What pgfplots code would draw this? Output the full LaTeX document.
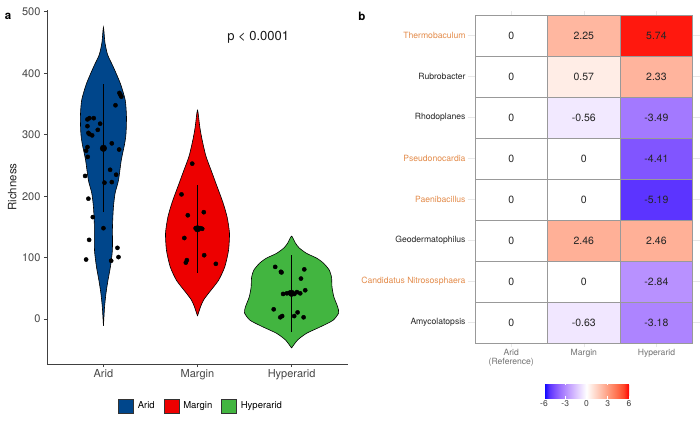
\documentclass[border=0pt]{standalone}
\usepackage{pgfplots}
\pgfplotsset{compat=1.18}
\usepackage{pgfplotstable}
\usepackage{fontspec}
\setmainfont{TeX Gyre Heros}
\definecolor{aridc}{HTML}{00468B}
\definecolor{marginc}{HTML}{ED0000}
\definecolor{hyperc}{HTML}{42B540}
\definecolor{orangelab}{RGB}{228,140,75}
\pgfplotsset{colormap={gg}{rgb255=(0,0,255) rgb255=(89,50,255) rgb255=(126,81,255) rgb255=(155,111,255) rgb255=(179,139,255) rgb255=(200,168,255) rgb255=(220,197,255) rgb255=(238,226,255) rgb255=(255,255,255) rgb255=(255,231,222) rgb255=(255,207,191) rgb255=(255,183,160) rgb255=(255,158,129) rgb255=(255,132,99) rgb255=(255,104,70) rgb255=(255,70,40) rgb255=(255,0,0)}}

\pgfplotstableread{
x y
1.17 368
1.18 365
1.19 362
1.128 348
0.851 327
0.897 327
0.83 325
0.965 318
0.83 314
0.94 308
0.84 303
0.851 301
0.88 299
0.83 280
0.816 274
0.833 264
1.089 286
1.167 276
1.071 243
1.135 235
1.011 222
1.089 223
0.805 233
0.84 196
0.887 166
1.0 148
0.848 129
1.149 116
1.16 101
0.816 97
1.082 95
}\aridpts
\pgfplotstableread{
x y
1.944 253
1.83 203
1.897 169
2.067 174
1.98 148
2.05 147
2.03 148
1.86 132
2.071 104
1.887 96
1.876 92
2.195 90
}\marginpts
\pgfplotstableread{
x y
2.826 85
2.887 77
2.893 76
3.135 81
3.1 66
3.145 47
2.91 41
2.95 42
2.98 43
3.057 44
3.092 42
3.03 41
2.81 16
3.064 11
2.9 5
2.88 3
3.028 5
3.128 3
}\hyperpts
\pgfplotstableread{
x y z
0 0 0
1 0 -0.63
2 0 -3.18
0 1 0
1 1 0
2 1 -2.84
0 2 0
1 2 2.46
2 2 2.46
0 3 0
1 3 0
2 3 -5.19
0 4 0
1 4 0
2 4 -4.41
0 5 0
1 5 -0.56
2 5 -3.49
0 6 0
1 6 0.57
2 6 2.33
0 7 0
1 7 2.25
2 7 5.74
}\heat

\begin{document}
\begin{tikzpicture}[x=1pt,y=1pt]
\useasboundingbox (0,0) rectangle (700,423);
\fill[white] (0,0) rectangle (700,423);
\node[font=\fontsize{11.5}{13}\selectfont\bfseries] at (8,407) {a};
\node[font=\fontsize{11.5}{13}\selectfont\bfseries] at (362,407) {b};

% ---------------- panel a ----------------
\begin{axis}[
  at={(47pt,59pt)}, anchor=south west, scale only axis,
  width=301pt, height=354pt,
  xmin=0.4, xmax=3.6, ymin=-73, ymax=503,
  axis x line*=bottom, axis y line*=left,
  axis line style={black!75, line width=0.8pt, -},
  xtick={1,2,3}, xticklabels={Arid,Margin,Hyperarid},
  ytick={0,100,200,300,400,500},
  tick align=outside, major tick length=3pt,
  tick style={black!75, line width=0.7pt},
  tick label style={font=\fontsize{11}{13}\selectfont, color=black!72},
  xticklabel style={inner sep=2pt},
  /pgf/number format/assume math mode=true,
  ylabel={Richness},
  ylabel style={at={(axis description cs:-0.115,0.5)}, anchor=center, font=\fontsize{11.5}{13}\selectfont, color=black!85},
  legend style={at={(axis description cs:0.512,-0.119)}, anchor=center, draw=none, fill=none,
    legend columns=3, font=\fontsize{9.5}{11}\selectfont, inner sep=0pt,
    /tikz/every even column/.append style={column sep=7pt},
    /tikz/every odd column/.append style={column sep=2pt}},
  legend cell align=left,
  clip=false,
]
\addplot[fill=aridc, draw=black, line width=0.6pt, smooth, tension=0.4,
  legend image code/.code={\draw[fill=aridc, draw=black!80, line width=0.6pt] (0pt,-7pt) rectangle (15pt,7pt);}]
 coordinates {(1,-11) (1.006,5) (1.012,20) (1.027,42) (1.048,63) (1.074,85) (1.095,112) (1.096,150) (1.106,182) (1.124,205) (1.16,226) (1.19,259) (1.225,285) (1.24,302) (1.245,329) (1.232,356) (1.181,383) (1.106,410) (1.045,430) (1.016,450) (1,475)
 (0.984,450) (0.955,430) (0.894,410) (0.819,383) (0.768,356) (0.755,329) (0.76,302) (0.775,285) (0.81,259) (0.84,226) (0.876,205) (0.894,182) (0.904,150) (0.905,112) (0.926,85) (0.952,63) (0.973,42) (0.988,20) (0.994,5) (1,-11)};
\addplot[fill=marginc, draw=black, line width=0.6pt, smooth, tension=0.4,
  legend image code/.code={\draw[fill=marginc, draw=black!80, line width=0.6pt] (0pt,-7pt) rectangle (15pt,7pt);}]
 coordinates {(2,5) (2.032,20) (2.064,31) (2.117,42) (2.223,63) (2.29,85) (2.33,112) (2.34,140) (2.315,166) (2.27,190) (2.21,215) (2.15,240) (2.09,265) (2.05,291) (2.025,312) (2,340)
 (1.975,312) (1.95,291) (1.91,265) (1.85,240) (1.79,215) (1.73,190) (1.685,166) (1.66,140) (1.67,112) (1.71,85) (1.777,63) (1.883,42) (1.936,31) (1.968,20) (2,5)};
\addplot[fill=hyperc, draw=black, line width=0.6pt, smooth, tension=0.4,
  legend image code/.code={\draw[fill=hyperc, draw=black!80, line width=0.6pt] (0pt,-7pt) rectangle (15pt,7pt);}]
 coordinates {(3,-47) (3.064,-34) (3.16,-23) (3.3,-13) (3.44,-2) (3.5,10) (3.49,20) (3.45,36) (3.43,52) (3.425,68) (3.4,80) (3.34,91) (3.27,99) (3.16,107) (3.08,116) (3.04,124) (3,135)
 (2.96,124) (2.92,116) (2.84,107) (2.73,99) (2.66,91) (2.6,80) (2.575,68) (2.57,52) (2.55,36) (2.51,20) (2.5,10) (2.56,-2) (2.7,-13) (2.84,-23) (2.936,-34) (3,-47)};
\addplot[forget plot, black, line width=0.6pt] coordinates {(1,174) (1,382)};
\addplot[forget plot, black, line width=0.6pt] coordinates {(2,75) (2,219)};
\addplot[forget plot, black, line width=0.6pt] coordinates {(3,-21) (3,105)};
\addplot[forget plot, only marks, mark=*, mark size=2.1pt, black] table {\aridpts};
\addplot[forget plot, only marks, mark=*, mark size=2.1pt, black] table {\marginpts};
\addplot[forget plot, only marks, mark=*, mark size=2.1pt, black] table {\hyperpts};
\addplot[forget plot, only marks, mark=*, mark size=3.3pt, black] coordinates {(1,278) (2,147) (3,42)};
\node[font=\fontsize{13}{15}\selectfont, color=black!90] at (axis cs:2.645,458) {p < 0.0001};
\legend{Arid,Margin,Hyperarid}
\end{axis}

% ---------------- panel b ----------------
\begin{axis}[
  at={(467.7pt,76pt)}, anchor=south west, scale only axis,
  width=232.3pt, height=336pt,
  xmin=-0.6, xmax=2.6, ymin=-0.6, ymax=7.6,
  xtick={0,1,2}, xticklabels={{Arid\\(Reference)},Margin,Hyperarid},
  xticklabel style={align=center, font=\fontsize{8.6}{9.5}\selectfont, color=black!55, inner sep=2pt},
  ytick={0,1,2,3,4,5,6,7},
  yticklabels={Amycolatopsis,{\color{orangelab}Candidatus Nitrososphaera},Geodermatophilus,{\color{orangelab}Paenibacillus},{\color{orangelab}Pseudonocardia},Rhodoplanes,Rubrobacter,{\color{orangelab}Thermobaculum}},
  yticklabel style={font=\fontsize{8.6}{9.5}\selectfont, color=black!85, inner sep=2pt},
  grid=major, major grid style={color=black!9, line width=0.5pt},
  axis line style={draw=none}, major tick length=0pt, tick style={draw=none},
  colormap name=gg, point meta min=-6, point meta max=6,
  colorbar horizontal,
  colorbar style={scale only axis, width=85pt, height=17pt,
    at={(parent axis.south west)}, anchor=north west, xshift=76.3pt, yshift=-26pt,
    xtick={-6,-3,0,3,6}, axis line style={draw=none},
    major tick length=3pt, tick style={white, line width=0.6pt}, tick align=inside,
    tick label style={font=\fontsize{8.5}{9.5}\selectfont, color=black!75, inner sep=1.5pt},
    xticklabel style={font=\fontsize{8.5}{9.5}\selectfont},
    /pgf/number format/assume math mode=true},
]
\addplot[matrix plot*, mesh/cols=3, point meta=explicit, draw=black!40, line width=0.6pt] table[x=x,y=y,meta=z] {\heat};
\addplot[draw=none, mark=none, nodes near coords, point meta=explicit symbolic,
  nodes near coords align={center},
  every node near coord/.append style={font=\fontsize{10.5}{12}\selectfont, color=black!85, anchor=center}]
  table[x=x,y=y,meta=z] {\heat};
\end{axis}
\end{tikzpicture}
\end{document}
